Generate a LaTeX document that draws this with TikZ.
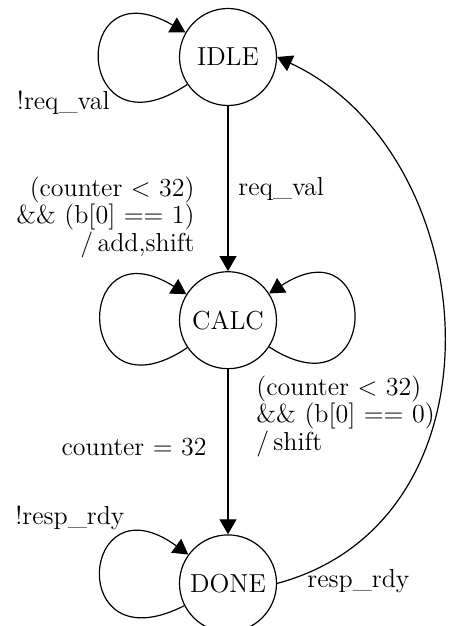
\documentclass[tikz,border=0pt]{standalone}
\usepackage{fontspec}
\usepackage{tikz}
\usetikzlibrary{automata}
\usetikzlibrary{positioning}
\usetikzlibrary{arrows.meta}
\tikzset{
	node distance=82.5pt, % gap between two states
	every state/.style={
			semithick,
			minimum size=48.5pt,
			inner sep=0pt
		},
	every node/.style={font=\fontsize{13}{13.6}\selectfont},
	cond/.style={inner sep=0pt}, % guard / action texts
	every edge/.style={ % every transition
			draw,
			-{Triangle[length=7.5pt,width=8.5pt]},
			semithick
		}
}
\begin{document}
\begin{tikzpicture}
    \useasboundingbox (-114pt,28.5pt) rectangle (110.5pt,-284.5pt);
    \node[state] (idle) {IDLE};
    \node[state, below=of idle] (calc) {CALC};
    \node[state, below=of calc] (done) {DONE};

    \path (idle) edge[out=214, in=150, distance=68pt] (idle)
          (idle) edge (calc)
          (calc) edge[out=214, in=148, distance=68pt] (calc)
          (calc) edge[out=-33, in=33, distance=67pt] (calc)
          (calc) edge (done)
          (done) edge[out=207, in=144, distance=67pt] (done)
          (done.east) edge[out=15, in=-25, out distance=122pt, in distance=115pt] (idle.east);

    \node[cond, anchor=base east] (notreq) at (-59pt,-26.2pt) {!req\_val};
    \node[cond, anchor=base west] (req) at (5pt,-69pt) {req\_val};
    % base of a multi-line node = its last line
    \node[cond, align=right, anchor=base east] (addshift) at (-16.5pt,-97pt)
        {(counter < 32)\\ \&\& (b[0] == 1)\\ /\,add,shift};
    \node[cond, align=left, anchor=base west] (shift) at (14pt,-196.5pt)
        {(counter < 32)\\ \&\& (b[0] == 0)\\ /\,shift};
    \node[cond, anchor=base east] (cnt) at (-10.5pt,-199pt) {counter = 32};
    \node[cond, anchor=base west] (notresp) at (-106.5pt,-233.5pt) {!resp\_rdy};
    \node[cond, anchor=base west] (resp) at (39.5pt,-265pt) {resp\_rdy};
\end{tikzpicture}
\end{document}
